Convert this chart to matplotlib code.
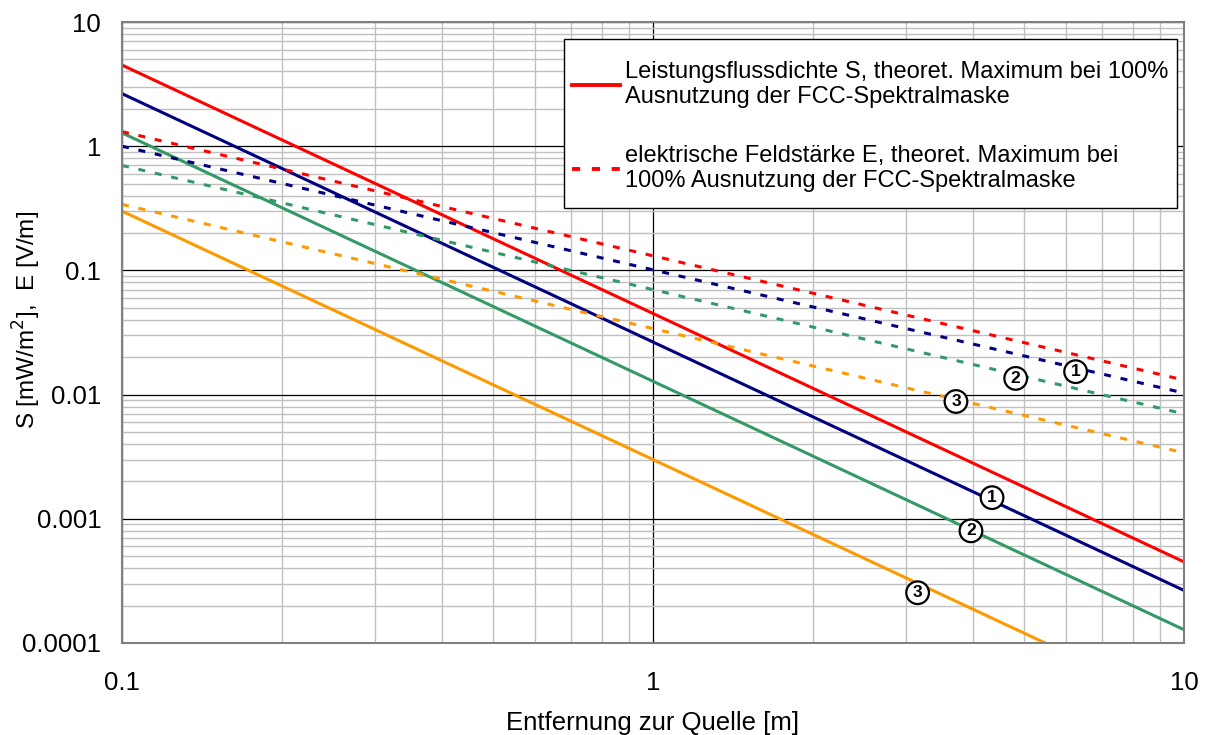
import matplotlib
matplotlib.use("Agg")
import matplotlib.pyplot as plt
from matplotlib.lines import Line2D
from matplotlib.patches import Rectangle

plt.rcParams['font.family'] = ['Liberation Sans', 'DejaVu Sans']

# distances [m]
distance = [0.1, 1, 10]

# power flux density S [mW/m^2] (solid)
S_red    = [4.5, 0.045, 0.00045]
S_blue   = [2.65, 0.0265, 0.000265]
S_green  = [1.28, 0.0128, 0.000128]
S_orange = [0.30, 0.0030, 0.000030]

# electric field strength E [V/m] (dotted)
E_red    = [1.31, 0.131, 0.0131]
E_blue   = [1.0, 0.101, 0.0103]
E_green  = [0.70, 0.070, 0.0070]
E_orange = [0.34, 0.034, 0.0034]

colors = {'red': '#FF0000', 'blue': '#000080', 'green': '#339966', 'orange': '#FF9900'}

# circled labels: (text, x, y)
labels_S = [("1", 4.35, 0.00148), ("2", 3.97, 0.00080), ("3", 3.15, 0.000254)]
labels_E = [("1", 6.25, 0.0153), ("2", 4.82, 0.0135), ("3", 3.72, 0.0088)]

x_ticks = [0.1, 1, 10]
x_ticklabels = ["0.1", "1", "10"]
y_ticks = [0.0001, 0.001, 0.01, 0.1, 1, 10]
y_ticklabels = ["0.0001", "0.001", "0.01", "0.1", "1", "10"]

W, H = 1206, 735
fig = plt.figure(figsize=(W/100, H/100), dpi=100)
ax = fig.add_axes([122/W, 1-643/H, (1184-122)/W, (643-22)/H])
ax.set_xscale('log')
ax.set_yscale('log')
ax.set_xlim(0.1, 10)
ax.set_ylim(0.0001, 10)

ax.grid(True, which='minor', color='#C0C0C0', lw=1.0)
ax.grid(True, which='major', color='#000000', lw=0.9)
ax.set_axisbelow(True)

lw = 2.2
dash = (2.3, 3.2)
for series, c in [(S_red, 'red'), (S_blue, 'blue'), (S_green, 'green'), (S_orange, 'orange')]:
    ax.plot(distance, series, color=colors[c], lw=lw, solid_capstyle='butt')
for series, c in [(E_red, 'red'), (E_blue, 'blue'), (E_green, 'green'), (E_orange, 'orange')]:
    ax.plot(distance, series, color=colors[c], lw=lw, linestyle=(0, dash))

for txt, x, y in labels_S + labels_E:
    ax.text(x, y, txt, ha='center', va='center', fontsize=12.5, fontweight='bold', zorder=5,
            bbox=dict(boxstyle='circle,pad=0.22', fc='white', ec='black', lw=1.6))

ax.set_xticks(x_ticks)
ax.set_xticklabels(x_ticklabels)
ax.set_yticks(y_ticks)
ax.set_yticklabels(y_ticklabels)
ax.tick_params(which='both', length=0, labelsize=18.5)
ax.tick_params(axis='y', pad=15)
ax.tick_params(axis='x', pad=20)
for s in ax.spines.values():
    s.set_color('#808080')
    s.set_linewidth(1.5)

ax.set_xlabel("Entfernung zur Quelle [m]", fontsize=18.5)
ax.set_ylabel("S [mW/m$^2$],  E [V/m]", fontsize=17.5)
ax.xaxis.set_label_coords(0.5, -0.11)
ax.yaxis.set_label_coords(-0.074, 0.52)

# legend frame (drawn separately to match asymmetric padding)
frame = Rectangle((564/W, 1-208/H), (1177-564)/W, (208-39)/H, transform=fig.transFigure,
                  fc='white', ec='black', lw=1.0, zorder=6, clip_on=False)
ax.add_patch(frame)

handles = [Line2D([], [], color=colors['red'], lw=2.8),
           Line2D([], [], color=colors['red'], lw=2.8, linestyle=(0, (2.1, 3.0)))]
leg_labels = ["Leistungsflussdichte S, theoret. Maximum bei 100%\nAusnutzung der FCC-Spektralmaske",
              "elektrische Feldstärke E, theoret. Maximum bei\n100% Ausnutzung der FCC-Spektralmaske"]
leg = ax.legend(handles, leg_labels, loc='upper left',
                bbox_to_anchor=((572-122)/1062, (643-61)/621),
                fontsize=17, frameon=False, handlelength=2.05, handletextpad=0.18,
                labelspacing=1.58, borderpad=0, borderaxespad=0)
leg.set_zorder(7)
for t in leg.get_texts():
    t.set_linespacing(1.16)

fig.savefig("out.png", dpi=100)
